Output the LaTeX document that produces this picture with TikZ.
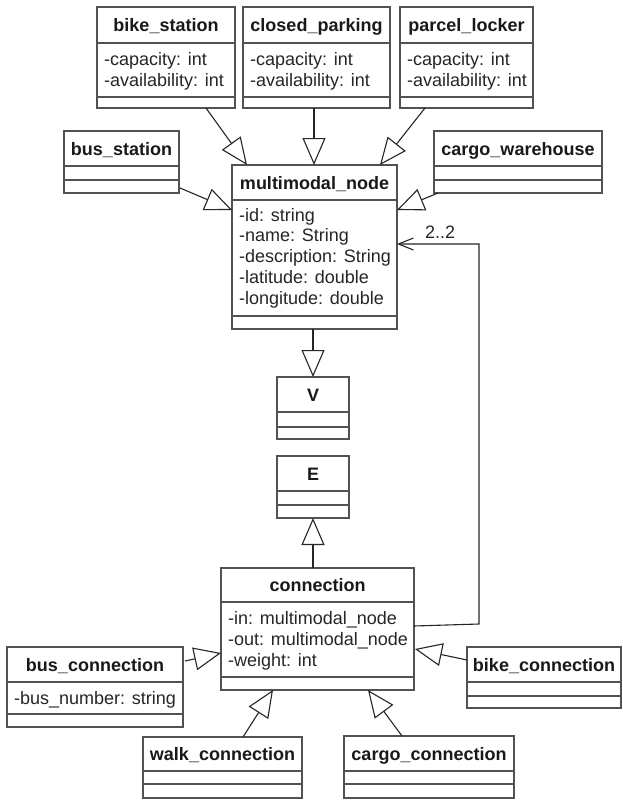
\documentclass[tikz,border=0pt]{standalone}
\usepackage{fontspec}
\setmainfont{Liberation Sans}
\usetikzlibrary{arrows.meta,calc}
\tikzset{
  clsbox/.style={draw=black!68, line width=1.5pt, inner sep=0pt, outer sep=0pt, fill=white, rectangle},
  clsline/.style={draw=black!68, line width=1.5pt},
  ctitle/.style={font=\fontsize{18}{21}\selectfont\bfseries, text=black!90, inner sep=0pt, anchor=base},
  cattr/.style={font=\fontsize{18}{21}\selectfont, text=black!85, inner sep=0pt, anchor=base west},
  gen/.style={draw=black!85, line width=1.1pt, -{Triangle[open, length=27pt, width=23pt, line width=1.1pt]}},
  assoc/.style={draw=black!85, line width=1.1pt, -{Straight Barb[length=15pt, width=12pt, line width=1.1pt]}}
}
% name, x1, y1, x2, y2, sep1, sep2, title
\newcommand\UMLclass[8]{%
  \node[clsbox, minimum width={#4-#2}, minimum height={#5-#3}] (#1) at ({(#2+#4)/2},{(#3+#5)/2}) {};
  \draw[clsline] (#2,#6) -- (#4,#6);
  \draw[clsline] (#2,#7) -- (#4,#7);
  \node[ctitle] (#1-t) at ({(#2+#4)/2},{(#3+#6)/2+6.5}) {#8};
}
\begin{document}
\begin{tikzpicture}[x=1pt,y=-1pt]
\path[fill=white] (0,0) rectangle (623,803);
\useasboundingbox (0,0) rectangle (623,803);

% top row
\UMLclass{bike}{97}{7}{235}{108}{43}{97}{bike\_station}
\node[cattr] (bike-a1) at (104,65) {-capacity: int};
\node[cattr] (bike-a2) at (104,86) {-availability: int};

\UMLclass{closed}{243}{7}{390}{108}{43}{97}{closed\_parking}
\node[cattr] (closed-a1) at (250,65) {-capacity: int};
\node[cattr] (closed-a2) at (250,86) {-availability: int};

\UMLclass{parcel}{400}{7}{533}{108}{43}{97}{parcel\_locker}
\node[cattr] (parcel-a1) at (407,65) {-capacity: int};
\node[cattr] (parcel-a2) at (407,86) {-availability: int};

\UMLclass{busst}{64}{131}{179}{193}{166}{180}{bus\_station}
\UMLclass{cargowh}{434}{131}{602}{193}{166}{180}{cargo\_warehouse}

% multimodal node
\UMLclass{mm}{232}{165}{397}{329}{200}{316}{multimodal\_node}
\node[cattr] (mm-a1) at (239,221) {-id: string};
\node[cattr] (mm-a2) at (239,241.8) {-name: String};
\node[cattr] (mm-a3) at (239,262.5) {-description: String};
\node[cattr] (mm-a4) at (239,283.2) {-latitude: double};
\node[cattr] (mm-a5) at (239,304) {-longitude: double};

\UMLclass{V}{277}{377}{349}{439}{412}{427}{V}
\UMLclass{E}{277}{456}{349}{518}{491}{505}{E}

% connection
\UMLclass{conn}{221}{568}{414}{690}{602}{677}{connection}
\node[cattr] (conn-a1) at (228,624) {-in: multimodal\_node};
\node[cattr] (conn-a2) at (228,645) {-out: multimodal\_node};
\node[cattr] (conn-a3) at (228,666) {-weight: int};

\UMLclass{busconn}{7}{647}{183}{727}{682}{714}{bus\_connection}
\node[cattr] (busconn-a1) at (14,704) {-bus\_number: string};

\UMLclass{bikeconn}{467}{647}{621}{708}{682}{696}{bike\_connection}
\UMLclass{walk}{143}{737}{302}{798}{771}{784}{walk\_connection}
\UMLclass{cargoconn}{344}{736}{514}{798}{771}{784}{cargo\_connection}

% generalizations
\draw[gen] ($(bike.south west)+(109,0)$) -- ($(mm.north west)+(15,0)$);
\draw[gen] ($(closed.south west)+(71,0)$) -- ($(mm.north west)+(82,0)$);
\draw[gen] ($(parcel.south west)+(25,0)$) -- ($(mm.north west)+(148,0)$);
\draw[gen] ($(busst.south east)+(1,-5)$) -- ($(mm.north west)+(0,45)$);
\draw[gen] ($(cargowh.south west)+(4,0)$) -- ($(mm.north east)+(0,45)$);
\draw[gen] ($(mm.south west)+(81,0)$) -- (V.north);
\draw[gen] ($(conn.north west)+(92,0)$) -- (E.south);
\draw[gen] ($(busconn.north east)+(2,14)$) -- ($(conn.north west)+(0,85)$);
\draw[gen] ($(bikeconn.north west)+(0,13)$) -- ($(conn.north east)+(1,81)$);
\draw[gen] ($(walk.north west)+(100,0)$) -- ($(conn.south west)+(52,0)$);
\draw[gen] ($(cargoconn.north west)+(58,0)$) -- ($(conn.south west)+(147,0)$);

% association
\coordinate (bendA) at (479,624);
\coordinate (bendB) at (479,244);
\draw[assoc] ($(conn.north east)+(0,58)$) -- (bendA) -- (bendB) -- ($(mm.north east)+(0,79)$);
\node[cattr] (mult) at (425,238) {2..2};
\end{tikzpicture}
\end{document}
